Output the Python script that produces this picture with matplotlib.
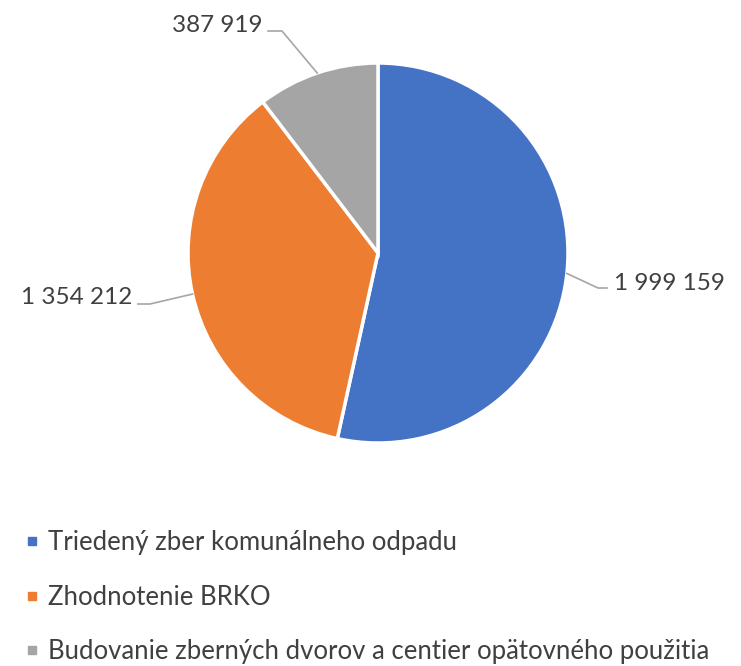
import matplotlib.pyplot as plt
import numpy as np
from matplotlib.lines import Line2D

plt.rcParams["font.family"] = ["Lato", "DejaVu Sans"]

categories = [
    "Triedený zber komunálneho odpadu",
    "Zhodnotenie BRKO",
    "Budovanie zberných dvorov a centier opätovného použitia",
]
values = [1999159, 1354212, 387919]
value_labels = ["1 999 159", "1 354 212", "387 919"]
colors = ["#4472C4", "#ED7D31", "#A5A5A5"]
text_color = "#404040"

W, H = 741, 666
fig = plt.figure(figsize=(W / 100, H / 100), dpi=100)
ax = fig.add_axes([0, 0, 1, 1])

cx, cy, r = 378, H - 253, 190
wedges, _ = ax.pie(values, colors=colors, startangle=90, counterclock=False,
                   center=(cx, cy), radius=r, frame=True,
                   wedgeprops=dict(edgecolor="white", linewidth=2.5))
ax.set_xlim(0, W)
ax.set_ylim(0, H)
ax.set_aspect("equal")
ax.axis("off")

# label text positions (pixel coords, y from top), leader elbow and end
label_pos = [(614, 283, "left"), (132, 298, "right"), (262, 25, "right")]
leader = [((598, 288), (607, 288)), ((150, 304), (138, 304)), ((282, 31), (268, 31))]
for w, lab, (tx, ty, ha), ((ex, ey), (fx, fy)) in zip(wedges, value_labels, label_pos, leader):
    ang = np.deg2rad((w.theta1 + w.theta2) / 2)
    px, py = cx + r * np.cos(ang), cy + r * np.sin(ang)
    ax.plot([px, ex, fx], [py, H - ey, H - fy], color="#A6A6A6", lw=1.2)
    ax.text(tx, H - ty, lab, ha=ha, va="center", fontsize=17.5, color=text_color)

handles = [Line2D([], [], marker="s", ls="", color=c, markersize=6) for c in colors]
fig.legend(handles, categories, loc="upper left", bbox_to_anchor=(0.008, 0.227),
           frameon=False, fontsize=18.5, labelspacing=1.15, handletextpad=0.25,
           handlelength=0.8, labelcolor=text_color, borderaxespad=0.2)

fig.savefig("out.png", dpi=100)
